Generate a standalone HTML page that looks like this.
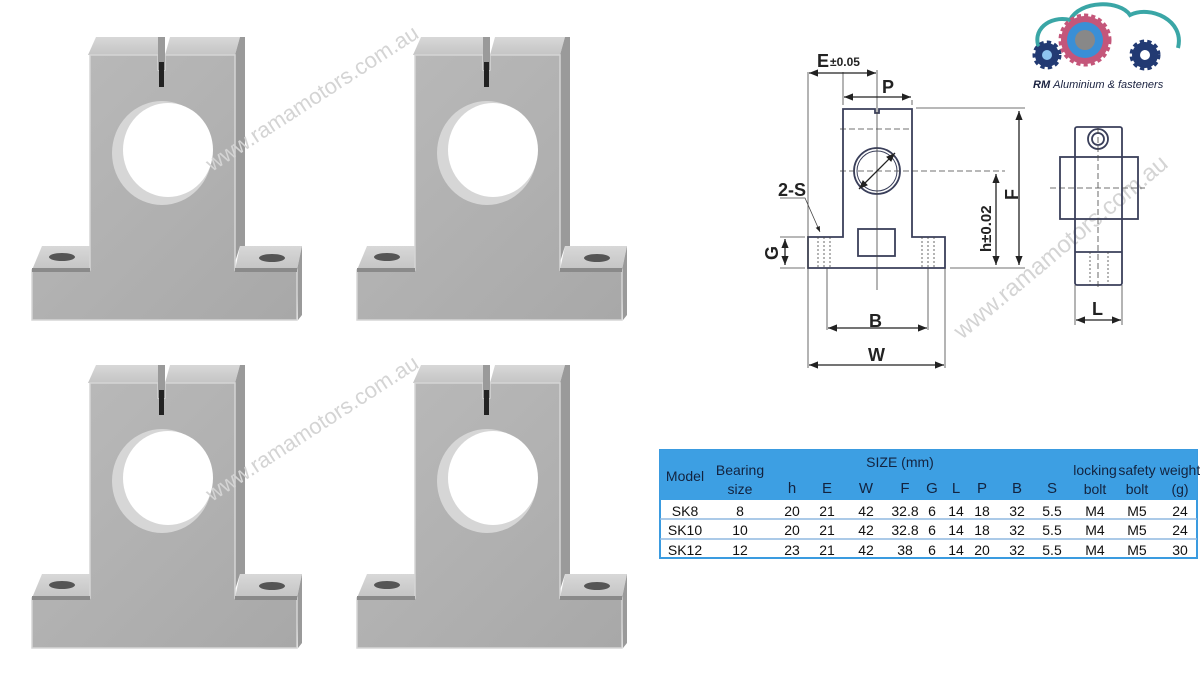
<!DOCTYPE html>
<html><head><meta charset="utf-8"><style>
html,body{margin:0;padding:0;background:#fff;width:1200px;height:675px;overflow:hidden;font-family:"Liberation Sans",sans-serif}
</style></head><body>
<svg width="1200" height="675" viewBox="0 0 1200 675" xmlns="http://www.w3.org/2000/svg" font-family="Liberation Sans, sans-serif">
<defs>
<marker id="ar" viewBox="0 0 10 10" refX="10" refY="5" markerWidth="7" markerHeight="7" orient="auto-start-reverse"><path d="M0,1 L10,5 L0,9 Z" fill="#222"/></marker>
<linearGradient id="fr" x1="0" y1="0" x2="1" y2="1"><stop offset="0" stop-color="#bababa"/><stop offset="1" stop-color="#a8a8a8"/></linearGradient>
<linearGradient id="tp" x1="0" y1="0" x2="0" y2="1"><stop offset="0" stop-color="#d8d8d8"/><stop offset="1" stop-color="#c4c4c4"/></linearGradient>
<g id="part">
 <polygon points="88,55 96,37 160,37 158,55" fill="url(#tp)"/>
 <polygon points="165,55 170,37 240,37 235,55" fill="url(#tp)"/>
 <polygon points="32,270 42,246 92,246 90,270" fill="url(#tp)"/>
 <polygon points="235,270 240,246 302,246 297,270" fill="url(#tp)"/>
 <polygon points="235,55 240,37 245,37 245,246 240,246 235,262" fill="#9a9a9a"/>
 <polygon points="297,270 302,246 302,315 298,320" fill="#9a9a9a"/>
 <path d="M90,55 H158 V70 H165 V55 H235 V270 H297 V320 H32 V270 H90 Z" fill="url(#fr)"/>
 <path d="M90,55 H158 V70 H165 V55 H235 V270 H297 V320 H32 V270 H90 Z" fill="none" stroke="#d5d5d5" stroke-width="1.5"/>
 <rect x="158" y="37" width="7" height="33" fill="#9a9a9a"/>
 <rect x="159" y="62" width="5" height="25" fill="#222"/>
 <ellipse cx="162" cy="153" rx="50" ry="52" fill="#d6d6d6"/>
 <ellipse cx="168" cy="150" rx="45" ry="47" fill="#fff"/>
 <ellipse cx="62" cy="257" rx="13" ry="4" fill="#555"/>
 <ellipse cx="272" cy="258" rx="13" ry="4" fill="#555"/>
 <rect x="32" y="268" width="58" height="4" fill="#8a8a8a"/>
 <rect x="235" y="268" width="62" height="4" fill="#8a8a8a"/>
</g>
</defs>
<use href="#part"/>
<use href="#part" x="325"/>
<use href="#part" y="328"/>
<use href="#part" x="325" y="328"/>

<g fill="#d4d4d4" font-size="22">
<text transform="translate(212,172) rotate(-33)">www.ramamotors.com.au</text>
<text transform="translate(212,502) rotate(-33)">www.ramamotors.com.au</text>
<text transform="translate(962,340) rotate(-40)" font-size="24">www.ramamotors.com.au</text>
</g>

<g stroke="#3a3f5a" fill="none" stroke-width="1.8">
 <path d="M843,109 H875 V113 H879 V109 H912 V237 H945 V268 H808 V237 H843 Z"/>
 <circle cx="877" cy="171" r="23"/>
 <circle cx="877" cy="171" r="20" stroke-width="1"/>
 <rect x="858" y="229" width="37" height="27"/>
 <rect x="1075" y="127" width="47" height="158" rx="2"/>
 <rect x="1060" y="157" width="78" height="62"/>
 <circle cx="1098" cy="139" r="10"/><circle cx="1098" cy="139" r="6"/>
 <path d="M1075,252 H1122"/>
</g>
<g stroke="#444" fill="none" stroke-width="0.8">
 <path d="M808,72 V368 M945,268 V368 M827,268 V330 M928,268 V330 M877,70 V290 M843,72 V105 M912,100 V105 M916,108 H1025 M950,268 H1025 M1075,285 V325 M1122,285 V325 M780,237 H805 M780,268 H805"/>
 <path d="M840,129 H912 M840,171 H1005 M1050,188 H1145 M1098,128 V290" stroke-dasharray="6,3"/>
 <path d="M818,237 V268 M824,237 V268 M830,237 V268 M922,237 V268 M928,237 V268 M934,237 V268 M1090,252 V285 M1108,252 V285" stroke-dasharray="2,2"/>
 <path d="M780,198 H805 L820,232" marker-end="url(#ar)"/>
</g>
<g stroke="#222" fill="none" stroke-width="1.3" marker-start="url(#ar)" marker-end="url(#ar)">
 <path d="M809,73 H876"/><path d="M844,97 H911"/><path d="M828,328 H927"/><path d="M809,365 H944"/>
 <path d="M1019,111 V265"/><path d="M996,174 V265"/><path d="M1076,320 H1121"/><path d="M785,239 V265"/>
 <path d="M859,189 L895,153"/>
</g>
<g fill="#222" font-size="18" font-weight="bold">
 <text x="817" y="67">E</text><text x="830" y="66" font-size="12">±0.05</text>
 <text x="882" y="93">P</text>
 <text x="778" y="196">2-S</text>
 <text x="869" y="327">B</text>
 <text x="868" y="361">W</text>
 <text x="1092" y="315">L</text>
 <text transform="translate(778,260) rotate(-90)">G</text>
 <text transform="translate(1018,200) rotate(-90)">F</text>
 <text transform="translate(991,252) rotate(-90)" font-size="15">h±0.02</text>
</g>

<!-- logo -->
<path d="M1040,50 C1030,30 1050,15 1070,20 C1080,0 1120,0 1130,15 C1150,5 1185,20 1178,48" fill="none" stroke="#3aa6a6" stroke-width="4"/>
<circle cx="1085" cy="40" r="24" fill="#c4567a" stroke="#c4567a" stroke-width="5" stroke-dasharray="4,3"/>
<circle cx="1085" cy="40" r="18" fill="#3a8fd6"/>
<circle cx="1085" cy="40" r="10" fill="#888"/>
<circle cx="1047" cy="55" r="12" fill="#223a73" stroke="#223a73" stroke-width="5" stroke-dasharray="4,3"/><circle cx="1047" cy="55" r="5" fill="#8fc4ef"/>
<circle cx="1145" cy="55" r="13" fill="#223a73" stroke="#223a73" stroke-width="5" stroke-dasharray="4,3"/><circle cx="1145" cy="55" r="5" fill="#fff"/>
<text x="1033" y="88" font-size="11" font-style="italic" font-weight="bold" fill="#1a2240">RM <tspan font-weight="normal">Aluminium &amp; fasteners</tspan></text>

<!-- table -->
<rect x="660" y="450" width="537" height="108" fill="#fff" stroke="#3a9be0" stroke-width="2"/>
<rect x="660" y="450" width="537" height="50" fill="#3d9fe3"/>
<path d="M660,519 H1197 M660,539 H1197" stroke="#8fb8e0" stroke-width="1.5"/>
<g font-size="14" fill="#13233f" text-anchor="middle">
 <text x="685" y="481">Model</text>
 <text x="740" y="475">Bearing</text><text x="740" y="494">size</text>
 <text x="900" y="467">SIZE (mm)</text>
 <text x="1095" y="475">locking</text><text x="1095" y="494">bolt</text>
 <text x="1137" y="475">safety</text><text x="1137" y="494">bolt</text>
 <text x="1180" y="475">weight</text><text x="1180" y="494">(g)</text>
 <g font-size="15"><text x="792" y="493">h</text><text x="827" y="493">E</text><text x="866" y="493">W</text><text x="905" y="493">F</text><text x="932" y="493">G</text><text x="956" y="493">L</text><text x="982" y="493">P</text><text x="1017" y="493">B</text><text x="1052" y="493">S</text></g>
 <g fill="#111">
 <text x="685" y="516">SK8</text><text x="740" y="516">8</text><text x="792" y="516">20</text><text x="827" y="516">21</text><text x="866" y="516">42</text><text x="905" y="516">32.8</text><text x="932" y="516">6</text><text x="956" y="516">14</text><text x="982" y="516">18</text><text x="1017" y="516">32</text><text x="1052" y="516">5.5</text><text x="1095" y="516">M4</text><text x="1137" y="516">M5</text><text x="1180" y="516">24</text>
 <text x="685" y="535">SK10</text><text x="740" y="535">10</text><text x="792" y="535">20</text><text x="827" y="535">21</text><text x="866" y="535">42</text><text x="905" y="535">32.8</text><text x="932" y="535">6</text><text x="956" y="535">14</text><text x="982" y="535">18</text><text x="1017" y="535">32</text><text x="1052" y="535">5.5</text><text x="1095" y="535">M4</text><text x="1137" y="535">M5</text><text x="1180" y="535">24</text>
 <text x="685" y="555">SK12</text><text x="740" y="555">12</text><text x="792" y="555">23</text><text x="827" y="555">21</text><text x="866" y="555">42</text><text x="905" y="555">38</text><text x="932" y="555">6</text><text x="956" y="555">14</text><text x="982" y="555">20</text><text x="1017" y="555">32</text><text x="1052" y="555">5.5</text><text x="1095" y="555">M4</text><text x="1137" y="555">M5</text><text x="1180" y="555">30</text>
 </g>
</g>
</svg>
</body></html>
